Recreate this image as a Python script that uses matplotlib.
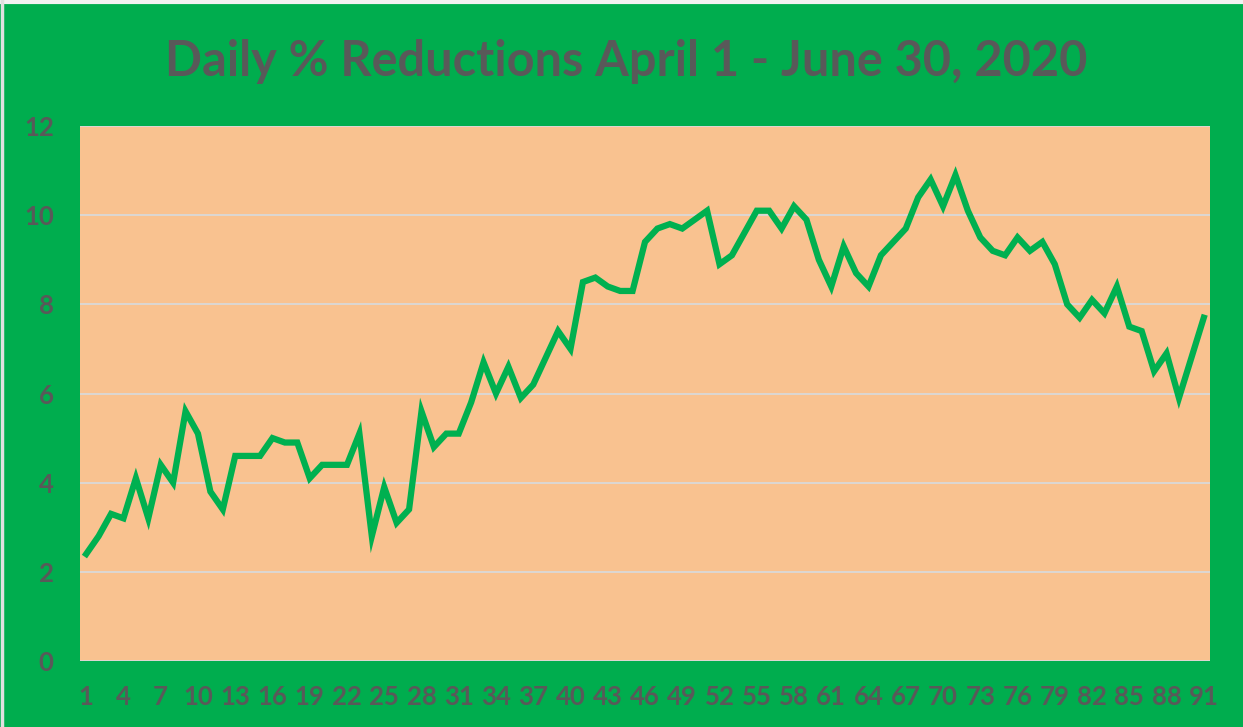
import matplotlib
matplotlib.use("Agg")
import matplotlib.pyplot as plt
from matplotlib.lines import Line2D

days = list(range(1, 92))
reductions = [2.4, 2.8, 3.3, 3.2, 4.1, 3.2, 4.4, 4.0, 5.6, 5.1,
              3.8, 3.4, 4.6, 4.6, 4.6, 5.0, 4.9, 4.9, 4.1, 4.4,
              4.4, 4.4, 5.1, 2.8, 3.9, 3.1, 3.4, 5.6, 4.8, 5.1,
              5.1, 5.8, 6.7, 6.0, 6.6, 5.9, 6.2, 6.8, 7.4, 7.0,
              8.5, 8.6, 8.4, 8.3, 8.3, 9.4, 9.7, 9.8, 9.7, 9.9,
              10.1, 8.9, 9.1, 9.6, 10.1, 10.1, 9.7, 10.2, 9.9, 9.0,
              8.4, 9.3, 8.7, 8.4, 9.1, 9.4, 9.7, 10.4, 10.8, 10.2,
              10.9, 10.1, 9.5, 9.2, 9.1, 9.5, 9.2, 9.4, 8.9, 8.0,
              7.7, 8.1, 7.8, 8.4, 7.5, 7.4, 6.5, 6.9, 5.9, 6.8,
              7.7]
x_ticks = list(range(1, 92, 3))
y_ticks = [0, 2, 4, 6, 8, 10, 12]
title = "Daily % Reductions April 1 - June 30, 2020"

GREEN = "#00AD4E"
PEACH = "#F9C290"
TEXT = "#595959"
GRID = "#D9D9D9"

plt.rcParams['font.family'] = ['Lato', 'DejaVu Sans']

fig = plt.figure(figsize=(12.43, 7.27), dpi=100)
fig.patch.set_facecolor(GREEN)
ax = fig.add_axes([80/1243, 1-661/727, 1130/1243, 535/727])
ax.set_facecolor(PEACH)

ax.plot(days, reductions, color="#00B050", lw=4.5, solid_joinstyle="miter", zorder=3)

ax.set_xlim(0.5, 91.5)
ax.set_ylim(0, 12)
ax.set_xticks(x_ticks)
ax.set_xticklabels([str(t) for t in x_ticks])
ax.set_yticks(y_ticks)
ax.set_yticklabels([str(t) for t in y_ticks])
ax.tick_params(length=0, colors=TEXT, labelsize=18.5)
ax.tick_params(axis='x', pad=17)
ax.tick_params(axis='y', pad=19)
for lab in ax.get_xticklabels() + ax.get_yticklabels():
    lab.set_fontweight('bold')
    lab.set_color(TEXT)
ax.grid(axis='y', color=GRID, lw=1.3, zorder=1)
for s in ax.spines.values():
    s.set_visible(False)

fig.text(626/1243, 1-61/727, title, ha='center', va='center',
         fontsize=35, fontweight='bold', color=TEXT)

# thin light border on top and left edges of the chart area
fig.add_artist(Line2D([0, 1], [1 - 2/727, 1 - 2/727], transform=fig.transFigure,
                      color="#F2F2F2", lw=3))
fig.add_artist(Line2D([2/1243, 2/1243], [0, 1], transform=fig.transFigure,
                      color="#E0E0E0", lw=2.5))

fig.savefig("out.png", dpi=100, facecolor=GREEN)
